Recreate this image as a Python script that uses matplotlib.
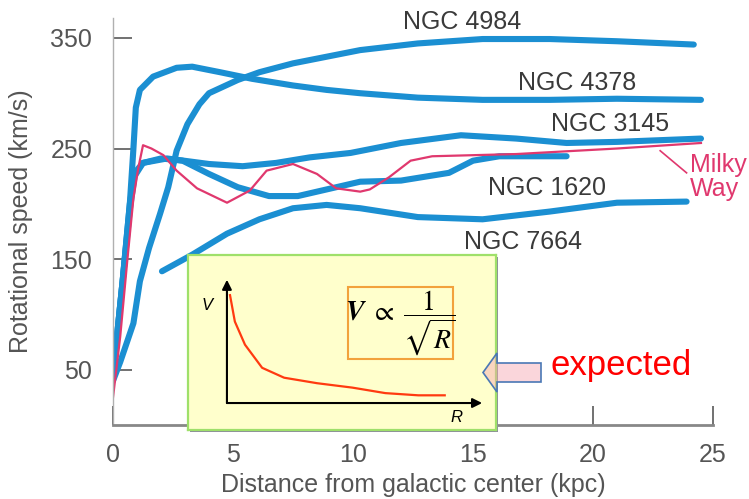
import matplotlib
matplotlib.use("Agg")
import matplotlib.pyplot as plt
from matplotlib.patches import Rectangle, FancyArrow

plt.rcParams['font.family'] = ['Liberation Sans', 'DejaVu Sans']
plt.rcParams['mathtext.fontset'] = 'stix'

# rotation curves (kpc, km/s)
ngc4984_r = [0, 0.3, 0.85, 1.12, 1.5, 1.96, 2.3, 2.65, 3.1, 3.6, 4.0, 5.2, 6.1, 7.5, 8.9,
             10.3, 12.7, 15.4, 18.2, 21, 24.2]
ngc4984_v = [40, 57, 92, 130, 160, 191, 215, 248, 272, 290, 300, 312, 319, 327, 333,
             339, 345, 349, 349, 347, 344]

ngc4378_r = [0, 0.4, 0.7, 0.85, 0.95, 1.12, 1.67, 2.65, 3.3, 4.46, 5.8, 7.5, 8.9, 10.3,
             12.7, 15.4, 18.2, 21, 24.5]
ngc4378_v = [45, 130, 200, 250, 287, 303, 315, 323, 324, 319, 313, 307, 303, 300,
             296, 294, 294, 295, 294]

ngc3145_r = [0, 0.4, 0.7, 0.9, 1.25, 2.25, 4.0, 5.4, 6.8, 8.2, 9.9, 12, 14.5, 16.8,
             18.9, 21, 24.5]
ngc3145_v = [45, 130, 200, 228, 237, 241, 236, 234, 237, 242, 246, 255, 262, 259,
             255, 256, 259]

ngc1620_r = [0, 0.4, 0.7, 0.9, 1.25, 2.0, 2.9, 4.0, 5.2, 6.5, 7.7, 8.9, 10.3, 12, 14,
             15, 16.1, 18.9]
ngc1620_v = [45, 130, 195, 225, 237, 241, 239, 227, 215, 207, 207, 213, 220, 221, 228,
             239, 243, 243]

ngc7664_r = [2.04, 3.3, 4.75, 6.1, 7.5, 8.9, 10.3, 12.7, 15.4, 18.2, 21, 23.9]
ngc7664_v = [139, 154, 173, 186, 196, 199, 196, 188, 186, 193, 201, 202]

milky_r = [0, 0.3, 0.6, 0.85, 1.05, 1.25, 1.6, 2.1, 2.65, 3.5, 4.75, 5.7, 6.4, 7.5,
           8.5, 9.3, 10.3, 10.7, 11.5, 12.4, 13.3, 16.8, 21, 24.5]
milky_v = [25, 80, 150, 205, 232, 253, 250, 244, 230, 214, 201, 212, 230, 236,
           227, 214, 211, 213, 224, 239, 243, 245, 250, 255]

blue_curves = [
    (ngc4984_r, ngc4984_v, "NGC 4984", 14.54, 364),
    (ngc4378_r, ngc4378_v, "NGC 4378", 19.33, 309),
    (ngc3145_r, ngc3145_v, "NGC 3145", 20.7, 272.5),
    (ngc1620_r, ngc1620_v, "NGC 1620", 18.08, 214.5),
    (ngc7664_r, ngc7664_v, "NGC 7664", 17.08, 165.5),
]

# expected keplerian fall-off sketched in the inset (arbitrary units)
kep_r = [0.14, 0.36, 0.82, 1.6, 2.6, 4.1, 5.7, 7.2, 8.7, 9.9]
kep_v = [9.8, 7.4, 5.3, 3.2, 2.3, 1.8, 1.4, 0.9, 0.7, 0.7]

xticks = [0, 5, 10, 15, 20, 25]
yticks = [50, 150, 250, 350]

blue = '#1b8fd2'
pink = '#e0386e'
grey = '#555555'

fig = plt.figure(figsize=(7.49, 4.99), dpi=100)
ax = fig.add_axes([0.1509, 0.1483, 0.8010, 0.8156])

for r, v, name, tx, ty in blue_curves:
    ax.plot(r, v, color=blue, lw=4.4, solid_capstyle='round', solid_joinstyle='round')
    ax.text(tx, ty, name, fontsize=18, color='#3a3a3a', ha='center', va='center')

ax.plot(milky_r, milky_v, color=pink, lw=1.6, solid_joinstyle='round')
ax.plot([22.8, 23.9], [248, 228], color=pink, lw=1.2, clip_on=False)
ax.text(24.05, 224, "Milky\nWay", fontsize=18, color=pink, ha='left', va='center',
        linespacing=1.0, clip_on=False)

ax.set_xlim(0, 25)
ax.set_ylim(0, 368)
ax.set_xticks(xticks)
ax.set_yticks(yticks)
ax.tick_params(direction='in', length=14, width=1.3, color='#666666',
               labelsize=18, labelcolor=grey)
ax.tick_params(axis='y', pad=15)
ax.tick_params(axis='x', pad=13)

for side in ['top', 'right']:
    ax.spines[side].set_visible(False)
ax.spines['left'].set_color('#b0b0b0')
ax.spines['left'].set_linewidth(1.0)
ax.spines['bottom'].set_color('#888888')
ax.spines['bottom'].set_linewidth(2.0)

ax.set_xlabel("Distance from galactic center (kpc)", fontsize=18, color=grey)
ax.set_ylabel("Rotational speed (km/s)", fontsize=18, color=grey)
ax.xaxis.set_label_coords(0.5, -0.118)
ax.yaxis.set_label_coords(-0.133, 0.5)

# inset with the expected curve
in_rect = [0.2510, 0.1383, 0.4112, 0.3507]
shadow = Rectangle((in_rect[0] + 0.003, in_rect[1] - 0.004), in_rect[2], in_rect[3],
                   transform=fig.transFigure, facecolor='#8c8c9c', edgecolor='none',
                   zorder=1.5)
fig.patches.append(shadow)

ax_in = fig.add_axes(in_rect, facecolor='#ffffcc', zorder=2)
ax_in.set_xlim(-1.77, 12.23)
ax_in.set_ylim(-2.45, 13.45)
ax_in.set_xticks([])
ax_in.set_yticks([])
for s in ax_in.spines.values():
    s.set_color('#9fe06a')
    s.set_linewidth(1.6)

ax_in.plot(kep_r, kep_v, color='#ff3a10', lw=1.6)
ax_in.annotate("", xy=(0, 11.2), xytext=(0, 0),
               arrowprops=dict(arrowstyle='-|>', color='black', lw=1.5,
                               mutation_scale=14, shrinkA=0, shrinkB=0))
ax_in.annotate("", xy=(11.6, 0), xytext=(0, 0),
               arrowprops=dict(arrowstyle='-|>', color='black', lw=1.5,
                               mutation_scale=14, shrinkA=0, shrinkB=0))
ax_in.text(-0.9, 8.9, "V", fontsize=12, style='italic', ha='center', va='center')
ax_in.text(10.45, -1.36, "R", fontsize=12, style='italic', ha='center', va='center')

ax_in.add_patch(Rectangle((0.519, 0.406), 0.341, 0.411, transform=ax_in.transAxes,
                          facecolor='#ffffcc', edgecolor='#f2a23c', lw=1.5))
ax_in.text(0.69, 0.615, r'$\boldsymbol{V}\ \propto\ \dfrac{\mathrm{1}}{\sqrt{R}}$',
           transform=ax_in.transAxes, fontsize=20, ha='center', va='center')

# block arrow pointing to the inset
arrow = FancyArrow(541 / 749, 1 - 372.5 / 499, -58 / 749, 0,
                   width=19 / 499, head_width=39 / 499, head_length=14 / 749,
                   length_includes_head=True, transform=fig.transFigure,
                   facecolor='#f4a6b0', alpha=0.45, edgecolor='none', zorder=3)
arrow_edge = FancyArrow(541 / 749, 1 - 372.5 / 499, -58 / 749, 0,
                        width=19 / 499, head_width=39 / 499, head_length=14 / 749,
                        length_includes_head=True, transform=fig.transFigure,
                        facecolor='none', edgecolor='#4a78b5', lw=1.2, zorder=3.1)
fig.patches.append(arrow)
fig.patches.append(arrow_edge)

fig.text(551 / 749, 1 - 366 / 499, "expected", fontsize=25, color='#ff0000',
         ha='left', va='center')

fig.savefig("out.png", dpi=100)
